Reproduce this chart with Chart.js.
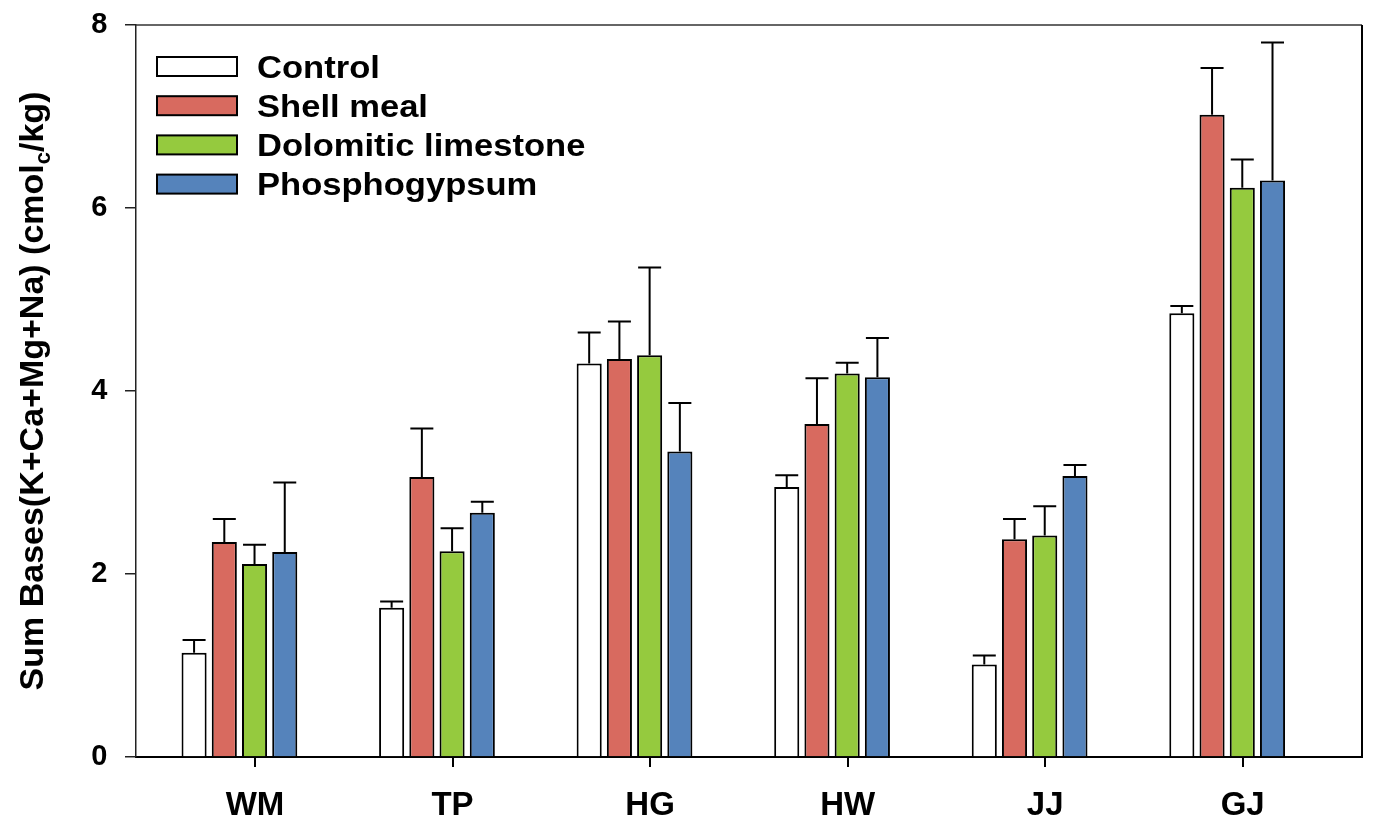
<!DOCTYPE html>
<html>
<head>
<meta charset="utf-8">
<script src="https://cdn.jsdelivr.net/npm/chart.js@4.4.1/dist/chart.umd.min.js"></script>
<style>
  html, body { margin: 0; padding: 0; background: #ffffff; }
  #wrap { width: 1381px; height: 831px; position: relative; }
</style>
</head>
<body>
<div id="wrap"><canvas id="c"></canvas></div>
<script>
// ---- data ----
const categories = ['WM', 'TP', 'HG', 'HW', 'JJ', 'GJ'];
const seriesNames = ['Control', 'Shell meal', 'Dolomitic limestone', 'Phosphogypsum'];
const control          = [1.14, 1.63, 4.30, 2.95, 1.01, 4.85];
const controlErr       = [0.14, 0.07, 0.34, 0.13, 0.10, 0.08];
const shellMeal        = [2.35, 3.06, 4.35, 3.64, 2.38, 7.02];
const shellMealErr     = [0.25, 0.53, 0.41, 0.50, 0.22, 0.51];
const dolomitic        = [2.11, 2.25, 4.39, 4.19, 2.42, 6.22];
const dolomiticErr     = [0.21, 0.25, 0.96, 0.12, 0.32, 0.31];
const phosphogypsum    = [2.24, 2.67, 3.34, 4.15, 3.07, 6.30];
const phosphogypsumErr = [0.76, 0.12, 0.53, 0.43, 0.12, 1.51];
const yTicks = [0, 2, 4, 6, 8];

const seriesValues = [control, shellMeal, dolomitic, phosphogypsum];
const seriesErrors = [controlErr, shellMealErr, dolomiticErr, phosphogypsumErr];
const seriesColors = ['#ffffff', '#d86a5f', '#95ca3e', '#5583bb'];

const FONT = "'Liberation Sans', Arial, Helvetica, sans-serif";

const datasets = seriesNames.map((name, s) => ({
  label: name,
  data: seriesValues[s].map((v, i) => ({ x: i, y: v })),
  errors: seriesErrors[s],
  backgroundColor: seriesColors[s],
  borderColor: '#000000',
  borderWidth: 2,
  borderSkipped: 'start',
  xAxisID: 'xb',
  yAxisID: 'y',
  categoryPercentage: 0.612,
  barPercentage: 0.83
}));

const intTicks = (scale) => { scale.ticks = categories.map((_, i) => ({ value: i })); };

// Error bars (upper side only, with cap)
const errorBarPlugin = {
  id: 'errorBars',
  afterDatasetsDraw(chart) {
    const ctx = chart.ctx;
    const yScale = chart.scales.y;
    ctx.save();
    ctx.strokeStyle = '#000';
    ctx.lineWidth = 2;
    chart.data.datasets.forEach((ds, d) => {
      const meta = chart.getDatasetMeta(d);
      meta.data.forEach((bar, i) => {
        const v = ds.data[i].y;
        const e = ds.errors[i];
        const yTop = yScale.getPixelForValue(v);
        const yErr = yScale.getPixelForValue(v + e);
        const half = 11.5;
        ctx.beginPath();
        ctx.moveTo(bar.x, yTop);
        ctx.lineTo(bar.x, yErr);
        ctx.moveTo(bar.x - half, yErr);
        ctx.lineTo(bar.x + half, yErr);
        ctx.stroke();
      });
    });
    ctx.restore();
  }
};

// Frame (top and right), custom legend, y title with subscript
const decorPlugin = {
  id: 'decor',
  afterDraw(chart) {
    const ctx = chart.ctx;
    const a = chart.chartArea;
    ctx.save();
    // top border
    ctx.strokeStyle = '#333';
    ctx.lineWidth = 1.5;
    ctx.beginPath();
    ctx.moveTo(a.left, a.top);
    ctx.lineTo(a.right, a.top);
    ctx.stroke();
    // right border
    ctx.strokeStyle = '#000';
    ctx.lineWidth = 2;
    ctx.beginPath();
    ctx.moveTo(a.right, a.top);
    ctx.lineTo(a.right, a.bottom);
    ctx.stroke();

    // legend
    const boxX = a.left + 21, boxW = 80, boxH = 19;
    const row0 = a.top + 32, rowStep = 39.2;
    ctx.textAlign = 'left';
    ctx.textBaseline = 'alphabetic';
    chart.data.datasets.forEach((ds, s) => {
      const y = row0 + s * rowStep;
      ctx.fillStyle = ds.backgroundColor;
      ctx.fillRect(boxX, y, boxW, boxH);
      ctx.strokeStyle = '#000';
      ctx.lineWidth = 2;
      ctx.strokeRect(boxX, y, boxW, boxH);
      ctx.fillStyle = '#000';
      ctx.save();
      ctx.translate(boxX + boxW + 20, y + boxH / 2 + 11);
      ctx.scale(1.08, 1);
      ctx.font = "bold 32px " + FONT;
      ctx.fillText(ds.label, 0, 0);
      ctx.restore();
    });

    // y axis title
    const parts = [
      { t: 'Sum Bases(K+Ca+Mg+Na) (cmol', size: 34, dy: 0 },
      { t: 'c', size: 22, dy: 7 },
      { t: '/kg)', size: 34, dy: 0 }
    ];
    let total = 0;
    parts.forEach(p => { ctx.font = 'bold ' + p.size + 'px ' + FONT; p.w = ctx.measureText(p.t).width; total += p.w; });
    const cy = (a.top + a.bottom) / 2;
    ctx.translate(43, cy);
    ctx.rotate(-Math.PI / 2);
    let x = -total / 2;
    ctx.fillStyle = '#000';
    parts.forEach(p => {
      ctx.font = 'bold ' + p.size + 'px ' + FONT;
      ctx.fillText(p.t, x, p.dy);
      x += p.w;
    });
    ctx.restore();
  }
};

new Chart(document.getElementById('c'), {
  type: 'bar',
  data: { datasets },
  options: {
    responsive: true,
    maintainAspectRatio: false,
    animation: false,
    layout: { padding: { top: 25, right: 19, left: 0, bottom: 0 } },
    plugins: {
      legend: { display: false },
      tooltip: { enabled: false },
      title: { display: false }
    },
    scales: {
      xb: {
        type: 'linear',
        axis: 'x',
        position: 'bottom',
        display: false,
        offset: false,
        grid: { offset: false },
        min: -0.5235,
        max: 5.6825,
        afterBuildTicks: intTicks
      },
      x: {
        type: 'linear',
        axis: 'x',
        position: 'bottom',
        offset: false,
        min: -0.6025,
        max: 5.604,
        afterBuildTicks: intTicks,
        afterFit: (s) => { s.height = 74; s.paddingLeft = 0; s.paddingRight = 0; },
        border: { display: true, color: '#000', width: 2 },
        grid: { offset: false, drawOnChartArea: false, drawTicks: true, tickLength: 10, color: '#000', lineWidth: 2 },
        ticks: {
          padding: 19,
          maxRotation: 0,
          autoSkip: false,
          color: '#000',
          font: { family: FONT, size: 33, weight: 'bold' },
          callback: (v) => categories[v]
        }
      },
      y: {
        type: 'linear',
        position: 'left',
        min: 0,
        max: 8,
        afterBuildTicks: (s) => { s.ticks = yTicks.map(v => ({ value: v })); },
        afterFit: (s) => { s.width = 136; s.paddingTop = 0; s.paddingBottom = 0; },
        border: { display: true, color: '#222', width: 1.5 },
        grid: { drawOnChartArea: false, drawTicks: true, tickLength: 11, color: '#222', lineWidth: 1.5 },
        ticks: {
          padding: 17.5,
          color: '#000',
          font: { family: FONT, size: 29, weight: 'bold' }
        }
      }
    }
  },
  plugins: [errorBarPlugin, decorPlugin]
});
</script>
</body>
</html>
